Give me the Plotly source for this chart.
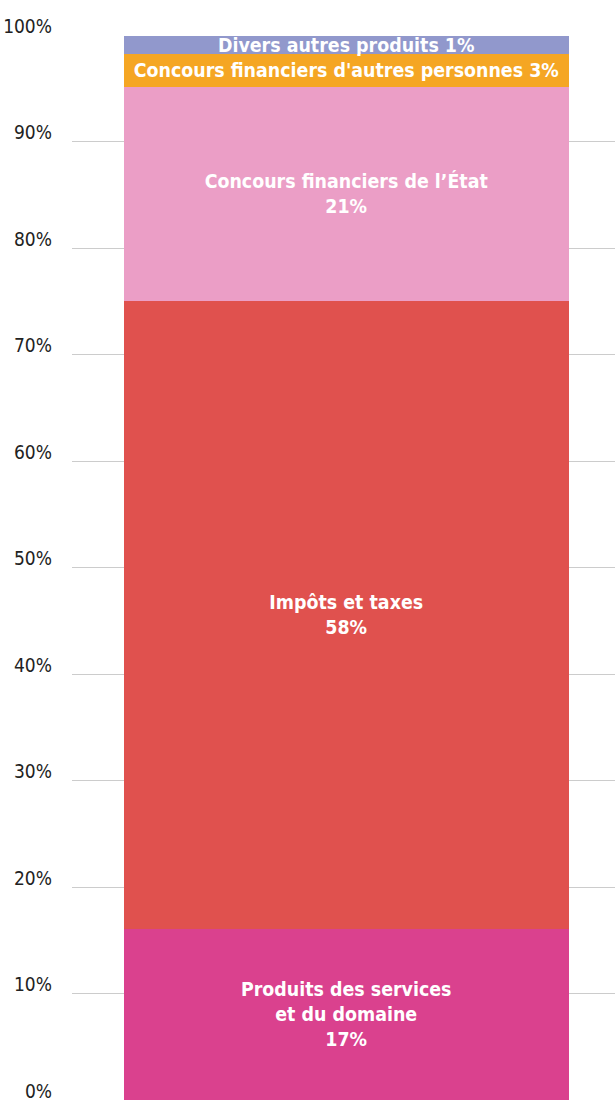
import plotly.graph_objects as go

category = ["Recettes"]
segments = [
    "Produits des services<br>et du domaine",
    "Impôts et taxes",
    "Concours financiers de l’État",
    "Concours financiers d'autres personnes",
    "Divers autres produits",
]
values = [16.1, 58.9, 20.1, 3.1, 1.7]
label_pct = ["17%", "58%", "21%", "3%", "1%"]
separators = ["<br>", "<br>", "<br>", " ", " "]
colors = ["#DA418E", "#E0514E", "#EB9EC6", "#F5A623", "#9198CC"]
tick_vals = [0, 10, 20, 30, 40, 50, 60, 70, 80, 90, 100]
tick_text = ["0%", "10%", "20%", "30%", "40%", "50%", "60%", "70%", "80%", "90%", "100%"]

FONT = "DejaVu Sans Condensed, Roboto, sans-serif"

fig = go.Figure()
for name, v, pct, sep, col in zip(segments, values, label_pct, separators, colors):
    fig.add_trace(go.Bar(
        x=category, y=[v], name=name,
        marker=dict(color=col, line=dict(width=0)),
        text=[name + sep + pct],
        textposition="inside",
        insidetextanchor="middle",
        textangle=0,
        textfont=dict(family=FONT, size=19.4, color="white", weight="bold"),
        hoverinfo="skip",
    ))

fig.update_layout(
    width=615, height=1106,
    barmode="stack",
    bargap=0.18,
    showlegend=False,
    plot_bgcolor="white",
    paper_bgcolor="white",
    margin=dict(l=72, r=0, t=35, b=6),
    uniformtext=dict(minsize=19.4, mode="show"),
    xaxis=dict(showticklabels=False, showgrid=False, zeroline=False, showline=False,
               range=[-0.505, 0.495]),
    yaxis=dict(range=[0, 100], tickvals=tick_vals, ticktext=tick_text,
               showgrid=True, gridcolor="#cccccc", gridwidth=1.2,
               zeroline=False, showline=False,
               ticks="", ticklabelstandoff=19, ticklabelshift=-9,
               tickfont=dict(family=FONT, size=19, color="#222222")),
)

fig.write_html("out.html", config={"displayModeBar": False},
               post_script="document.body.style.margin='0';")
